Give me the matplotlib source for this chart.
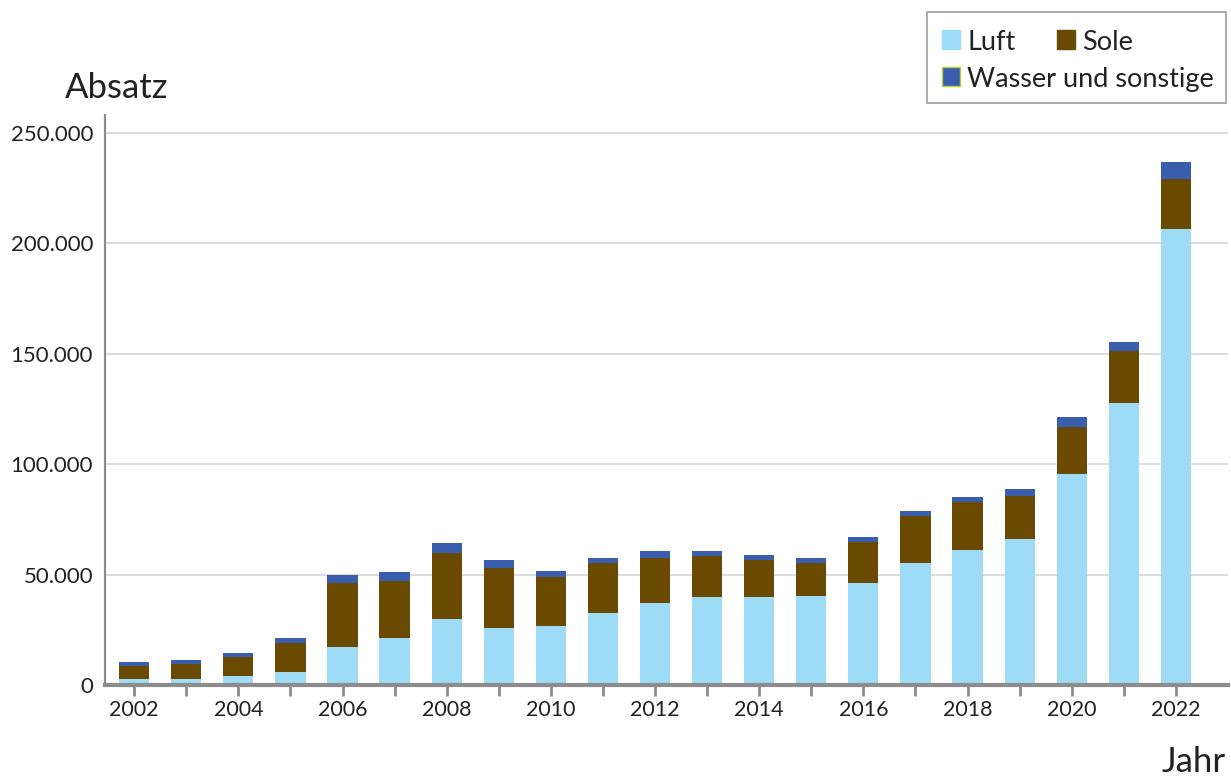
import numpy as np
import matplotlib
matplotlib.use("Agg")
import matplotlib.pyplot as plt
from matplotlib.patches import Rectangle
from matplotlib.ticker import FuncFormatter, MultipleLocator

plt.rcParams['font.family'] = ['Lato', 'DejaVu Sans']

years = list(range(2002, 2023))
luft = [2600, 2900, 3900, 6100, 17400, 21500, 29700, 26000, 26500, 32800, 36900,
        39900, 39900, 40300, 46200, 55300, 61100, 65900, 95700, 127600, 206500]
sole = [5800, 6800, 8600, 12700, 28600, 25400, 29900, 26800, 22600, 22200, 20400,
        18500, 16700, 15000, 18600, 21200, 21700, 19500, 21000, 23700, 22600]
wasser = [1800, 1800, 1800, 2300, 4000, 4100, 4500, 4000, 2300, 2300, 3200,
          2300, 2300, 2200, 2200, 2300, 2200, 3100, 4400, 3900, 7700]

labels = ["Luft", "Sole", "Wasser und sonstige"]
colors = ["#9DDBF6", "#6A4900", "#395EAD"]

fig = plt.figure(figsize=(12.31, 7.78), dpi=100)
ax = fig.add_axes([105/1231, 1-685/778, (1228-105)/1231, (685-115)/778])

x = np.array(years)
luft = np.array(luft)
sole = np.array(sole)
wasser = np.array(wasser)
w = 0.58
ax.bar(x, luft, w, color=colors[0], zorder=3)
ax.bar(x, sole, w, bottom=luft, color=colors[1], zorder=3)
ax.bar(x, wasser, w, bottom=luft + sole, color=colors[2], zorder=3)

ax.set_xlim(2001.44, 2023.0)
ax.set_ylim(0, 258000)

ax.yaxis.set_major_locator(MultipleLocator(50000))
ax.yaxis.set_major_formatter(FuncFormatter(lambda v, p: f"{int(v):,}".replace(",", ".")))
ax.grid(axis='y', color='#D9D9D9', linewidth=1.3, zorder=0)
ax.tick_params(axis='y', length=0, labelsize=16, pad=8.5, colors='#222222')

ax.set_xticks(years)
ax.set_xticklabels([str(y) if y % 2 == 0 else "" for y in years])
ax.tick_params(axis='x', length=8, width=2, color='#8C8C8C', labelsize=15.5, pad=3,
               labelcolor='#222222')

for s in ['top', 'right']:
    ax.spines[s].set_visible(False)
ax.spines['left'].set_color('#8C8C8C')
ax.spines['left'].set_linewidth(1.6)
ax.spines['bottom'].set_color('#8C8C8C')
ax.spines['bottom'].set_linewidth(3)
ax.spines['bottom'].set_zorder(4)

fig.text(65/1231, 1-98/778, "Absatz", fontsize=25, color='#222222', ha='left', va='baseline')
fig.text(1226/1231, 1-772/778, "Jahr", fontsize=25, color='#222222', ha='right', va='baseline')

# legend box
W, H = 1231, 778
fig.patches.append(Rectangle((927/W, 1-103/H), (1226-927)/W, (103-12)/H, transform=fig.transFigure,
                             facecolor='white', edgecolor='#A0A0A0', linewidth=1.2))
entries = [(942, 50, 0), (1057, 50, 1), (942, 87, 2)]
for lx, ly, i in entries:
    ec = '#B8D030' if i == 2 else colors[i]
    fig.patches.append(Rectangle((lx/W, 1-(ly-1)/H), 18/W, 19/H, transform=fig.transFigure,
                                 facecolor=colors[i], edgecolor=ec, linewidth=1))
    fig.text((lx+25)/W, 1-ly/H, labels[i], fontsize=19.5, color='#222222',
             ha='left', va='baseline')

fig.savefig("out.png", dpi=100)
